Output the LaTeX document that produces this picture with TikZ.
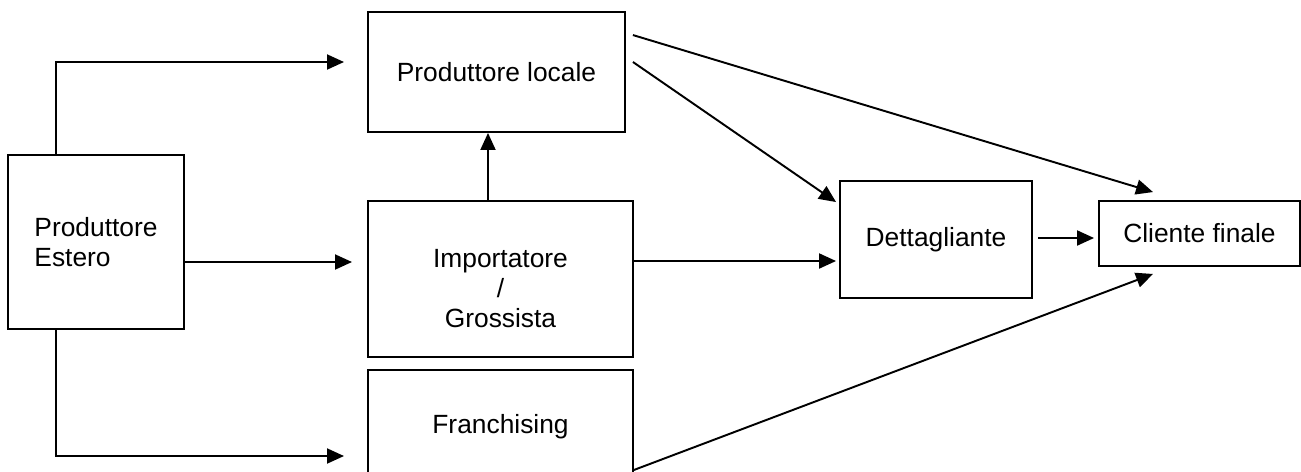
\documentclass[tikz,border=0pt]{standalone}
\usepackage{fontspec}
\setmainfont{Liberation Sans}
\usetikzlibrary{%
	calc,%
	arrows.meta
}

\begin{document}
\begin{tikzpicture}[x=0.02cm, y=-0.02cm,
		font=\fontsize{15}{17}\selectfont,
		box/.style={draw, line width=1.1pt, inner sep=0pt, align=center},
		arr/.style={line width=1.1pt, -{Triangle[length=0.34cm, width=0.3cm]}}
	]
		\useasboundingbox (0,0) rectangle (1301,471);
		
		\node[box, align=left, minimum width=3.52cm, minimum height=3.48cm] (estero) at (96,242) {Produttore\\Estero};
		\node[box, minimum width=5.14cm, minimum height=2.4cm] (locale) at (496.5,72) {Produttore locale};
		\node[box, minimum width=5.3cm, minimum height=3.12cm] (importatore) at (500.5,279) {\rule{0pt}{21pt}Importatore\\/\\Grossista};
		\node[box, minimum width=5.3cm, minimum height=2.28cm] (franchising) at (500.5,427) {Franchising};
		\node[box, minimum width=3.84cm, minimum height=2.34cm] (dett) at (936,239.5) {Dettagliante};
		\node[box, minimum width=4.02cm, minimum height=1.3cm] (cliente) at (1199.5,233.5) {Cliente finale};
		
		\coordinate (tipa) at (344,62);
		\coordinate (tipb) at (352,262);
		\coordinate (tipc) at (344,456);
		\coordinate (up) at (488,0);
		
		\draw[arr] ($(estero.north)+(-40,0)$) |- (tipa);
		\draw[arr] (estero.east |- tipb) -- (tipb);
		\draw[arr] ($(estero.south)+(-40,0)$) |- (tipc);
		\draw[arr] (importatore.north -| up) -- (locale.south -| up);
		
		\draw[arr] ($(locale.north east)+(7,24)$) -- ($(cliente.north)+(-46.5,-8)$);
		\draw[arr] ($(locale.east)+(7,-10)$) -- ($(dett.north west)+(-3,22)$);
		\draw[arr] ($(importatore.east)+(0,-18)$) coordinate (m) -- ($(dett.west |- m)+(-3,0)$);
		\draw[arr] ($(dett.east)+(5,-1.5)$) coordinate (n) -- ($(cliente.west |- n)+(-4,0)$);
		\draw[arr] ($(franchising.south east)+(0,-15)$) -- ($(cliente.south)+(-46.5,7)$);

	\end{tikzpicture}
\end{document}
